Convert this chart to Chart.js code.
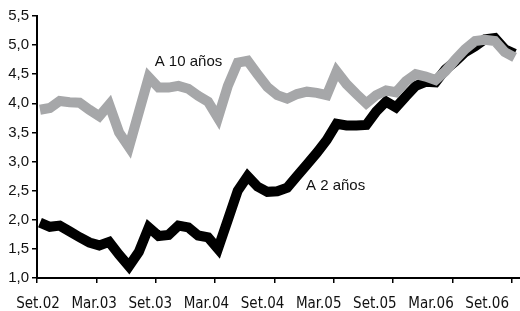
<!DOCTYPE html>
<html lang="es">
<head>
  <meta charset="UTF-8">
  <title>Tasas a 2 y 10 años</title>
  <script src="https://cdn.jsdelivr.net/npm/chart.js@4.4.0/dist/chart.umd.min.js"></script>
  <style>
    html, body { margin: 0; padding: 0; background: #fff; }
    #wrap { width: 520px; height: 311px; }
  </style>
</head>
<body>
<div id="wrap"><canvas id="chart"></canvas></div>
<script>
  // meses: 0 = Set.02 ... 48 = Set.06
  const tickLabels = ['Set.02','Mar.03','Set.03','Mar.04','Set.04','Mar.05','Set.05','Mar.06','Set.06'];
  const yTicks = [1.0, 1.5, 2.0, 2.5, 3.0, 3.5, 4.0, 4.5, 5.0, 5.5];

  // A 10 años
  const tenYear = [3.89, 3.92, 4.04, 4.02, 4.01, 3.89, 3.78, 3.98, 3.50, 3.25,
                   3.85, 4.45, 4.27, 4.27, 4.30, 4.25, 4.13, 4.03, 3.75, 4.30,
                   4.70, 4.73, 4.50, 4.28, 4.14, 4.08, 4.16, 4.20, 4.18, 4.14,
                   4.55, 4.33, 4.16, 4.00, 4.14, 4.22, 4.19, 4.38, 4.50, 4.46,
                   4.40, 4.55, 4.75, 4.93, 5.07, 5.09, 5.07, 4.88, 4.79];
  // A 2 años
  const twoYear = [1.95, 1.88, 1.90, 1.80, 1.70, 1.61, 1.56, 1.62, 1.40, 1.20,
                   1.45, 1.87, 1.72, 1.74, 1.90, 1.87, 1.73, 1.70, 1.50, 2.00,
                   2.50, 2.75, 2.57, 2.48, 2.49, 2.55, 2.75, 2.95, 3.15, 3.37,
                   3.65, 3.62, 3.62, 3.63, 3.86, 4.03, 3.93, 4.12, 4.30, 4.37,
                   4.36, 4.58, 4.72, 4.88, 4.98, 5.10, 5.12, 4.93, 4.85];

  const notes = [
    { text: 'A 10 años', x: 11.6, y: 4.71 },
    { text: 'A 2 años',  x: 26.9, y: 2.58 }
  ];

  const FONT = "'Liberation Sans', Arial, sans-serif";
  const NARROW = "'Liberation Sans Narrow', 'DejaVu Sans Condensed', sans-serif";

  const toPts = arr => arr.map((v, i) => ({ x: i, y: v }));

  const notesPlugin = {
    id: 'notes',
    afterDatasetsDraw(chart) {
      const { ctx, scales } = chart;
      ctx.save();
      ctx.font = '15px ' + FONT;
      ctx.fillStyle = '#111';
      ctx.textAlign = 'left';
      ctx.textBaseline = 'middle';
      notes.forEach(n => ctx.fillText(n.text, scales.x.getPixelForValue(n.x), scales.y.getPixelForValue(n.y)));
      ctx.restore();
    }
  };

  new Chart(document.getElementById('chart'), {
    type: 'line',
    data: {
      datasets: [
        { label: 'A 10 años', data: toPts(tenYear), borderColor: '#a6a7a9', borderWidth: 10 },
        { label: 'A 2 años',  data: toPts(twoYear), borderColor: '#000000', borderWidth: 10 }
      ]
    },
    options: {
      responsive: true,
      maintainAspectRatio: false,
      animation: false,
      layout: { padding: { top: 16, left: 0, right: 0, bottom: 0 } },
      elements: { point: { radius: 0 }, line: { tension: 0, borderJoinStyle: 'miter', borderCapStyle: 'butt' } },
      plugins: { legend: { display: false }, tooltip: { enabled: false } },
      scales: {
        x: {
          type: 'linear', position: 'bottom', weight: 0,
          min: -0.3, max: 48.5,
          afterBuildTicks: s => { s.ticks = tickLabels.map((_, k) => ({ value: 6 * k - 0.3 })); },
          afterFit: s => { s.height = 6; },
          ticks: { display: false },
          grid: { drawOnChartArea: false, tickLength: 5, color: '#000', lineWidth: 1.5 },
          border: { color: '#000', width: 2 }
        },
        x2: {
          type: 'linear', position: 'bottom', weight: 1,
          min: -0.0178, max: 8.577,
          afterBuildTicks: s => { s.ticks = tickLabels.map((_, k) => ({ value: k })); },
          afterFit: s => { s.height = 27; },
          ticks: {
            autoSkip: false, maxRotation: 0, padding: 11, color: '#111',
            font: { family: NARROW, size: 15 },
            callback: v => tickLabels[Math.round(v)]
          },
          grid: { display: false, drawTicks: false },
          border: { display: false }
        },
        y: {
          min: 1, max: 5.5,
          afterBuildTicks: s => { s.ticks = yTicks.map(v => ({ value: v })); },
          afterFit: s => { s.width = 37; },
          ticks: {
            padding: 3, color: '#111',
            font: { family: FONT, size: 15 },
            callback: v => v.toFixed(1).replace('.', ',')
          },
          grid: { drawOnChartArea: false, tickLength: 5, color: '#000', lineWidth: 1.5 },
          border: { color: '#000', width: 2 }
        }
      }
    },
    plugins: [notesPlugin]
  });
</script>
</body>
</html>
